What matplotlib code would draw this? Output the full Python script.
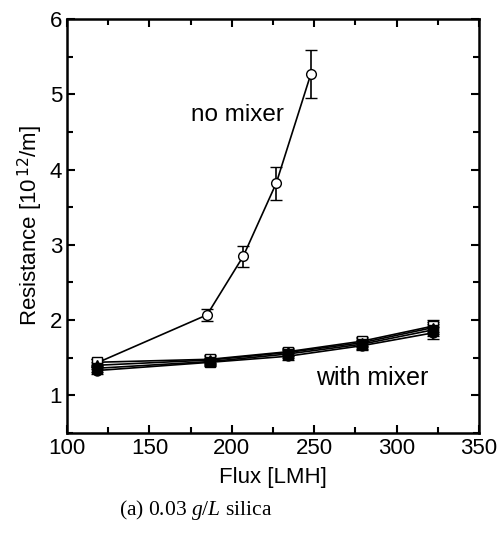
import matplotlib
matplotlib.use("Agg")
import matplotlib.pyplot as plt
from matplotlib.ticker import MultipleLocator

# Data
flux_nomix = [118, 185, 207, 227, 248]
res_nomix = [1.43, 2.07, 2.85, 3.82, 5.27]
err_nomix = [0.05, 0.08, 0.14, 0.22, 0.32]

flux_mix = [118, 187, 234, 279, 322]
res_mix1 = [1.44, 1.48, 1.58, 1.72, 1.92]
res_mix2 = [1.36, 1.45, 1.55, 1.68, 1.87]
res_mix3 = [1.40, 1.47, 1.57, 1.70, 1.90]
res_mix4 = [1.33, 1.44, 1.52, 1.66, 1.83]
err_mix = [0.05, 0.05, 0.05, 0.06, 0.08]

plt.rcParams['font.family'] = ['Liberation Sans', 'DejaVu Sans']
plt.rcParams['mathtext.fontset'] = 'custom'
plt.rcParams['mathtext.it'] = 'Liberation Serif:italic'
plt.rcParams['mathtext.rm'] = 'Liberation Serif'

fig = plt.figure(figsize=(5.02, 5.44), dpi=100)
ax = fig.add_axes([0.1335, 0.204, 0.8205, 0.761])

ax.errorbar(flux_nomix, res_nomix, yerr=err_nomix, color='black', lw=1.2,
            marker='o', ms=7, mfc='white', mec='black', mew=1.0,
            capsize=4, elinewidth=1.2, capthick=1.2)

# open square first, filled markers on top
styles = [('s', 'white'), ('s', 'black'), ('^', 'black'), ('o', 'black')]
for vals, (m, fc) in zip([res_mix1, res_mix2, res_mix3, res_mix4], styles):
    ax.errorbar(flux_mix, vals, yerr=err_mix, color='black', lw=1.2,
                marker=m, ms=6.5, mfc=fc, mec='black', mew=1.0,
                capsize=4, elinewidth=1.2, capthick=1.2)

ax.text(237 / 1.648 + 100 - 67 / 1.648, 4.72, "no mixer", fontsize=17.5,
        ha='center', va='center')
ax.text(285, 1.23, "with mixer", fontsize=18, ha='center', va='center')

ax.set_xlim(100, 350)
ax.set_ylim(0.5, 6)
ax.xaxis.set_major_locator(MultipleLocator(50))
ax.xaxis.set_minor_locator(MultipleLocator(25))
ax.yaxis.set_major_locator(MultipleLocator(1))
ax.yaxis.set_minor_locator(MultipleLocator(0.5))
ax.tick_params(which='both', direction='in', width=1.5, labelsize=16,
               top=True, right=True)
ax.tick_params(which='major', length=6)
ax.tick_params(which='minor', length=4)
for s in ax.spines.values():
    s.set_linewidth(1.8)

ax.set_xlabel("Flux [LMH]", fontsize=16, labelpad=6)
ax.set_ylabel(r"Resistance [10$^{\,\mathsf{12}}$/m]", fontsize=16, labelpad=4)

fig.text(0.39, 0.062, r"(a) 0.03 $g/L$ silica", fontsize=15.5,
         family='Liberation Serif', ha='center', va='center')

fig.savefig("out.png", dpi=100)
